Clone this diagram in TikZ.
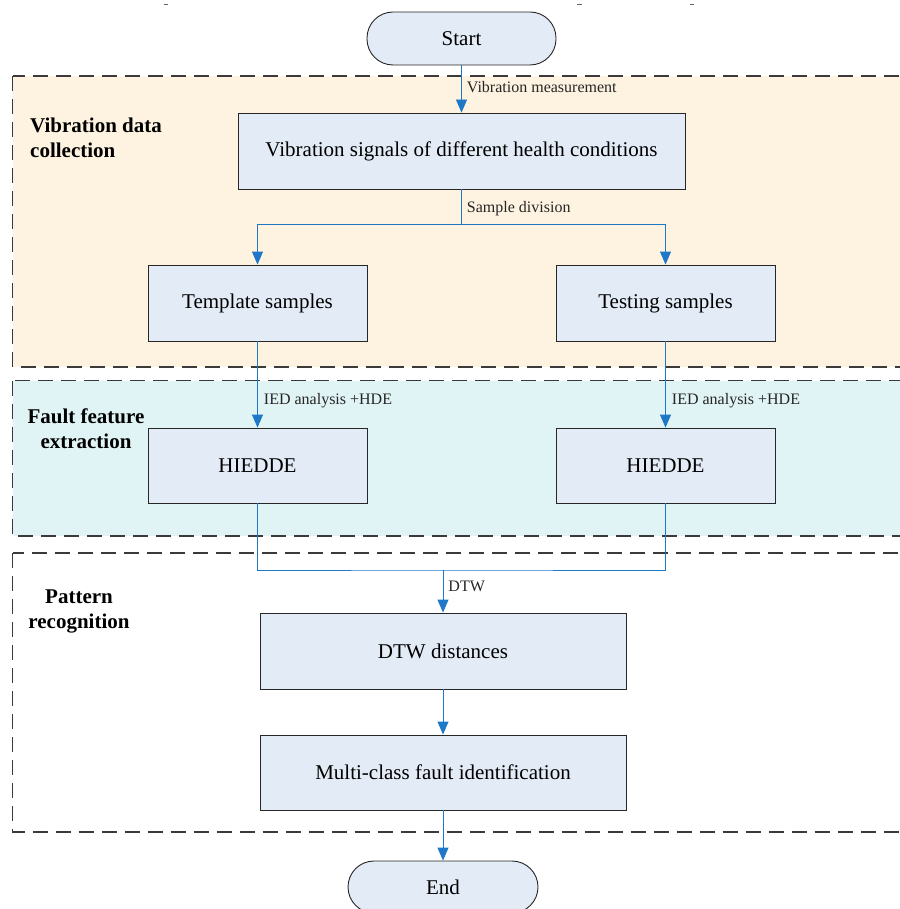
\documentclass[tikz,border=0pt]{standalone}
\usepackage{fontspec}
\setmainfont{Liberation Serif}
\usetikzlibrary{arrows.meta}
\definecolor{zoneA}{HTML}{FEF2E0}
\definecolor{zoneB}{HTML}{E0F3F5}
\definecolor{boxfill}{HTML}{E3EBF6}
\definecolor{flowblue}{HTML}{1E78C8}
\definecolor{zoneline}{HTML}{3A3A3A}
\tikzset{
  zone/.style={draw=zoneline, line width=1.3pt, dash pattern=on 15pt off 8pt},
  proc/.style={draw=black!85, line width=0.9pt, fill=boxfill, rectangle,
    inner sep=0pt, font=\fontsize{21}{25}\selectfont},
  term/.style={proc, rounded corners=26pt},
  zonetitle/.style={font=\fontsize{21}{25}\selectfont\bfseries, inner sep=0pt},
  lbl/.style={font=\fontsize{16}{19}\selectfont, inner sep=0pt, text=black!85},
  link/.style={draw=flowblue, line width=0.9pt},
  flow/.style={link, -{Triangle[length=13pt,width=11pt]}},
}
\begin{document}
\begin{tikzpicture}[x=1pt,y=-1pt]
\useasboundingbox (0,0) rectangle (899,909);

% small marks along the top edge
\draw[black!60, line width=0.8pt] (164,4) -- (168,4) (577,4) -- (582,4) (690,4) -- (694,4);

% stage panels
\draw[zone, fill=zoneA] (12.5,76) rectangle (912,367);
\draw[zone, fill=zoneB] (12.5,380.5) rectangle (912,536);
\draw[zone] (12.5,553) rectangle (912,832);

\node[zonetitle, align=left, anchor=west] (t1) at (30,137.5) {Vibration data\\collection};
\node[zonetitle, align=center] (t2) at (86,428.5) {Fault feature\\extraction};
\node[zonetitle, align=center] (t3) at (79,611.5) {Pattern\\recognition};

% process steps
\node[term, minimum width=189pt, minimum height=53pt] (start) at (461.5,38.5) {Start};
\node[proc, minimum width=447pt, minimum height=76pt] (vib) at (461.5,151) {Vibration signals of different health conditions};
\node[proc, minimum width=219pt, minimum height=76pt] (tpl) at (257.5,303) {Template samples};
\node[proc, minimum width=219pt, minimum height=76pt] (tst) at (665.5,303) {Testing samples};
\node[proc, minimum width=219pt, minimum height=75pt] (h1) at (257.5,465.5) {HIEDDE};
\node[proc, minimum width=219pt, minimum height=75pt] (h2) at (665.5,465.5) {HIEDDE};
\node[proc, minimum width=366pt, minimum height=76pt] (dtw) at (443,651) {DTW distances};
\node[proc, minimum width=366pt, minimum height=75pt] (mc) at (443,772.5) {Multi-class fault identification};
\node[term, minimum width=190pt, minimum height=52pt] (end) at (443,887) {End};

% connectors
\draw[flow] (start) -- node[lbl, anchor=west, pos=0.46, xshift=5pt] {Vibration measurement} (vib);

\coordinate (split) at (461.5,224);
\draw[link] (vib) -- node[lbl, anchor=west, pos=0.55, xshift=5pt] {Sample division} (split);
\draw[flow] (split) -| (tpl.north);
\draw[flow] (split) -| (tst.north);

\draw[flow] (tpl) -- node[lbl, anchor=west, pos=0.69, xshift=6pt] {IED analysis +HDE} (h1);
\draw[flow] (tst) -- node[lbl, anchor=west, pos=0.69, xshift=6pt] {IED analysis +HDE} (h2);

\coordinate (merge) at (443,570);
\draw[link] (h1.south) |- (merge) -| (h2.south);
\draw[flow] (merge) -- node[lbl, anchor=west, pos=0.38, xshift=5pt] {DTW} (dtw);
\draw[flow] (dtw) -- (mc);
\draw[flow] (mc) -- (end);
\end{tikzpicture}
\end{document}
